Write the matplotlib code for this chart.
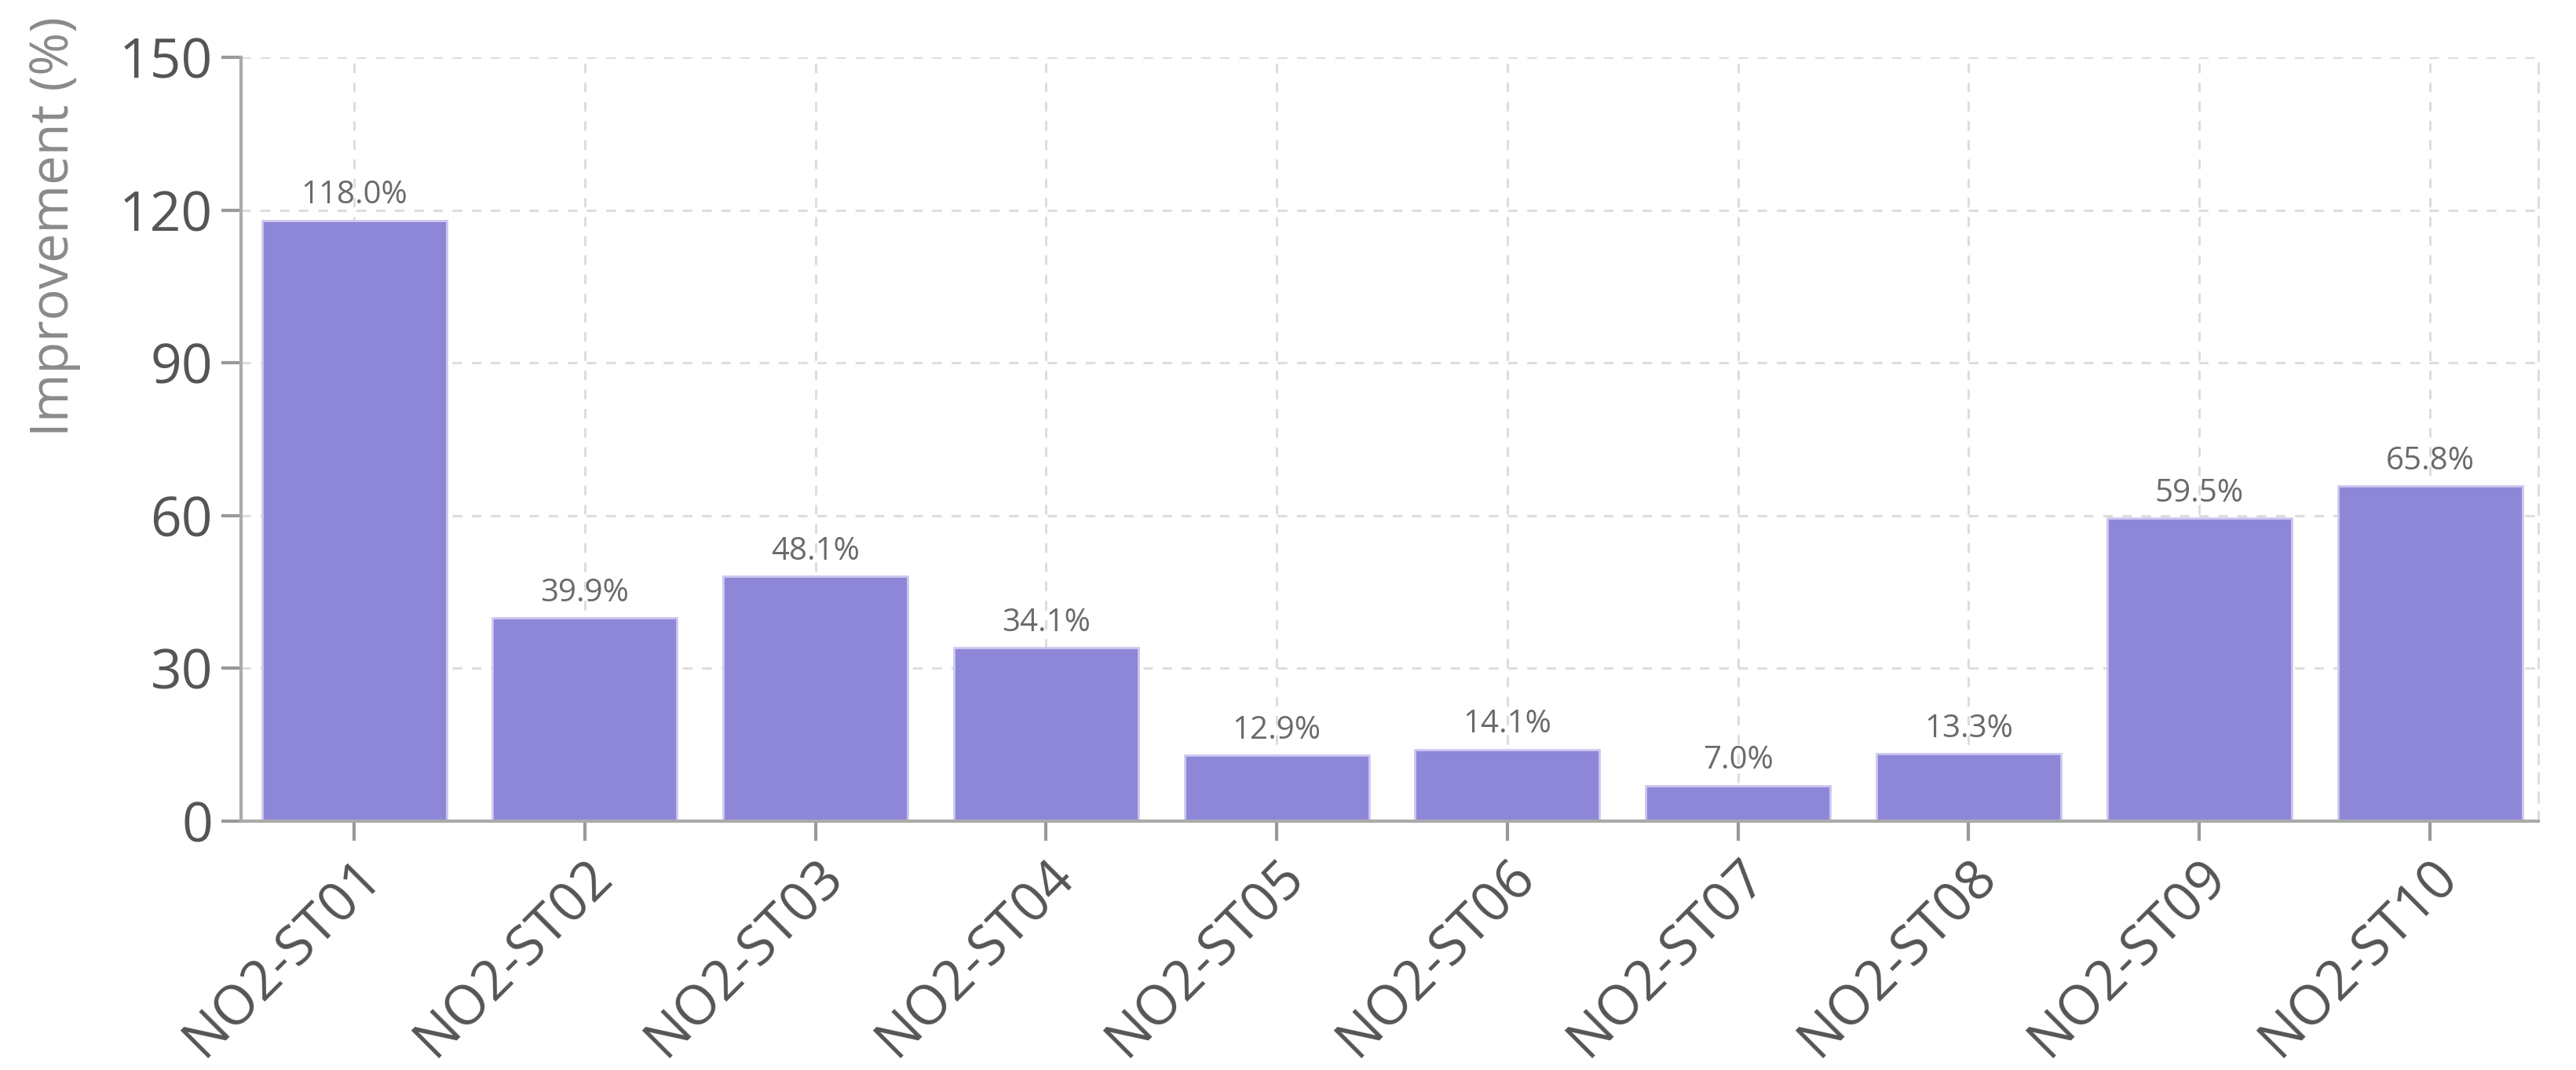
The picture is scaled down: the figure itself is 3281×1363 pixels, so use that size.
import matplotlib
matplotlib.use("Agg")
import matplotlib.pyplot as plt

stations = ["NO2-ST01", "NO2-ST02", "NO2-ST03", "NO2-ST04", "NO2-ST05",
            "NO2-ST06", "NO2-ST07", "NO2-ST08", "NO2-ST09", "NO2-ST10"]
improvement = [118.0, 39.9, 48.1, 34.1, 12.9, 14.1, 7.0, 13.3, 59.5, 65.8]
y_ticks = [0, 30, 60, 90, 120, 150]

plt.rcParams['font.family'] = ['Open Sans', 'DejaVu Sans']

fig = plt.figure(figsize=(16.405, 6.815), dpi=200)
ax = fig.add_axes([0.0936, 0.2326, 0.8918, 0.7138])

x = range(len(stations))
ax.bar(x, improvement, width=0.8, color="#8e87d8",
       edgecolor="#cdc8f0", linewidth=1.0, zorder=3)

for xi, v in zip(x, improvement):
    ax.annotate(f"{v:.1f}%", (xi, v), xytext=(0, 4), textcoords="offset points",
                ha="center", va="bottom", fontsize=14.5, color="#6a6a6a", zorder=4)

ax.set_xlim(-0.49, 9.47)
ax.set_ylim(0, 150)
ax.set_yticks(y_ticks)
ax.set_xticks(list(x))
ax.set_xticklabels(stations, rotation=45, ha="right", rotation_mode="anchor")

ax.grid(True, color="#dddddd", linestyle=(0, (4, 4)), linewidth=1.1, zorder=0)
ax.spines["top"].set_visible(False)
ax.spines["right"].set_color("#dddddd")
ax.spines["right"].set_linestyle((0, (4, 4)))
ax.spines["right"].set_linewidth(1.1)
for side in ["left", "bottom"]:
    ax.spines[side].set_color("#aaaaaa")
    ax.spines[side].set_linewidth(1.5)
    ax.spines[side].set_zorder(5)

ax.tick_params(axis="both", labelsize=25, labelcolor="#555555",
               color="#999999", length=9, width=1.5, pad=4)

ax.set_ylabel("Improvement (%)", fontsize=24, color="#8a8a8a")
ax.yaxis.set_label_coords(-0.0697, 0.779)

fig.savefig("out.png", dpi=200)
